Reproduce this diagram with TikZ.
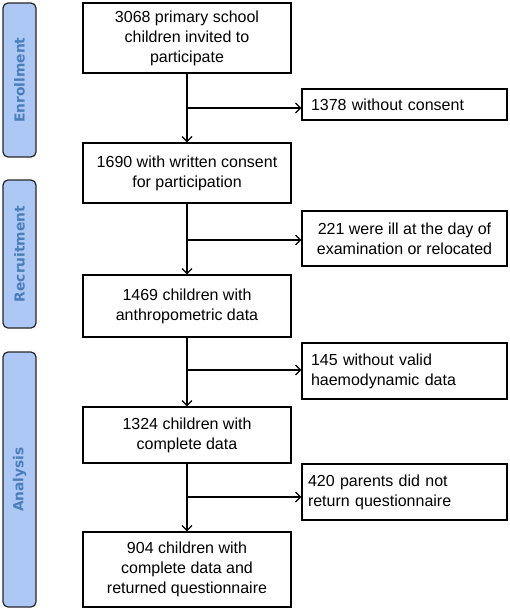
\documentclass[tikz,border=0pt]{standalone}
\usepackage{fontspec}
\setmainfont{Liberation Sans}
\newfontfamily\barfont{DejaVu Sans}
\usetikzlibrary{arrows.meta}
\definecolor{barfill}{HTML}{ADC8F5}
\definecolor{bartext}{HTML}{4A7EBB}
\tikzset{
  x=1pt,y=-1pt,
  mainbox/.style={draw,line width=1.3pt,minimum width=208pt,align=center,inner sep=2pt,
    font=\fontsize{16}{20}\selectfont},
  sidebox/.style={draw,line width=1.3pt,minimum width=205pt,inner sep=2pt,
    font=\fontsize{16}{20}\selectfont},
  phase/.style={draw=black!85,line width=1.2pt,fill=barfill,rounded corners=5pt,rotate=90,
    minimum height=33pt,inner sep=0pt,text=bartext,font=\barfont\bfseries\fontsize{13.8}{16}\selectfont},
  flow/.style={line width=1.3pt,-{Straight Barb[length=5pt,width=10pt,line width=1.2pt]}},
}
\begin{document}
\begin{tikzpicture}
\useasboundingbox (0,0) rectangle (510,610);
% phase bars
\node[phase,minimum width=154pt] (enr) at (19.5,80) {Enrollment};
\node[phase,minimum width=148pt] (rec) at (19.5,254) {Recruitment};
\node[phase,minimum width=255pt] (ana) at (19.5,479.5) {Analysis};
% main boxes
\node[mainbox,minimum height=70pt] (b1) at (187,38) {3068 primary school\\children invited to\\participate};
\node[mainbox,minimum height=60pt] (b2) at (187,173) {1690 with written consent\\for participation};
\node[mainbox,minimum height=62pt] (b3) at (187,306) {1469 children with\\anthropometric data};
\node[mainbox,minimum height=56pt] (b4) at (187,435) {1324 children with\\complete data};
\node[mainbox,minimum height=75pt] (b5) at (187,569.5) {904 children with\\complete data and\\returned questionnaire};
% side boxes
\node[sidebox,minimum height=31pt,align=left,text width=187pt] (s1) at (404.5,104.5) {1378 without consent};
\node[sidebox,minimum height=55pt,align=center] (s2) at (404.5,238.5) {221 were ill at the day of\\examination or relocated};
\node[sidebox,minimum height=56pt,align=left,text width=187pt] (s3) at (404.5,371) {145 without valid\\haemodynamic data};
\node[sidebox,minimum height=56pt,align=left,text width=193pt] (s4) at (404.5,492) {420 parents did not\\return questionnaire};
% branch points
\coordinate (j1) at (187,108);
\coordinate (j2) at (187,240);
\coordinate (j3) at (187,370);
\coordinate (j4) at (187,497);
% connectors
\draw[flow] (b1.south) -- (b2.north);
\draw[flow] (b2.south) -- (b3.north);
\draw[flow] (b3.south) -- (b4.north);
\draw[flow] (b4.south) -- (b5.north);
\draw[flow] (j1) -- (j1 -| s1.west);
\draw[flow] (j2) -- (j2 -| s2.west);
\draw[flow] (j3) -- (j3 -| s3.west);
\draw[flow] (j4) -- (j4 -| s4.west);
\end{tikzpicture}
\end{document}
